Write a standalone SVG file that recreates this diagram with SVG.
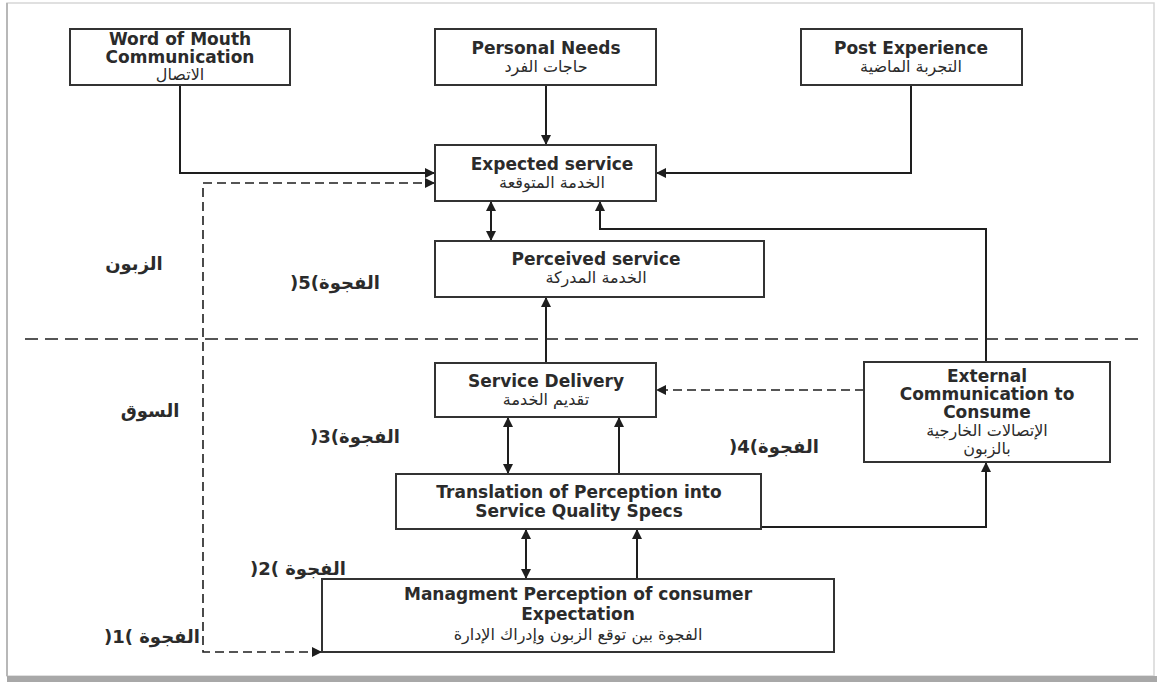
<svg xmlns="http://www.w3.org/2000/svg" width="1157" height="684" viewBox="0 0 1157 684">
<style>
.box{fill:#fff;stroke:#333;stroke-width:2}
.en{font-family:"DejaVu Sans","Liberation Sans",sans-serif;font-weight:bold;font-size:17px;fill:#2b2b2b;text-anchor:middle}
.ar{font-family:"DejaVu Sans","Noto Sans",sans-serif;font-size:16px;fill:#2b2b2b;text-anchor:middle}
.lbl{font-family:"DejaVu Sans","Noto Sans",sans-serif;font-weight:bold;font-size:18px;fill:#2b2b2b;text-anchor:middle}
.ln{fill:none;stroke:#1e1e1e;stroke-width:2}
.dash{fill:none;stroke:#1e1e1e;stroke-width:1.6;stroke-dasharray:9 5}
.sep{fill:none;stroke:#1e1e1e;stroke-width:1.6;stroke-dasharray:13 7}
</style>
<defs>
<marker id="ah" viewBox="0 0 10 10" refX="10" refY="5" markerWidth="11" markerHeight="10" markerUnits="userSpaceOnUse" orient="auto-start-reverse">
<path d="M0,0 L10,5 L0,10 z" fill="#1e1e1e"/>
</marker>
</defs>
<g id="frame">
<rect x="7" y="3" width="1147" height="673" fill="#fff" stroke="#d6d6d6" stroke-width="1.5"/>
<line x1="7" y1="679" x2="1157" y2="679" stroke="#a8a8a8" stroke-width="6"/>
<line x1="7" y1="3" x2="7" y2="676" stroke="#b8b8b8" stroke-width="2"/>
</g>
<g id="connectors">
<path class="sep" d="M25,339 H1145"/>
<path class="ln" d="M180,85 V173 H435" marker-end="url(#ah)"/>
<path class="ln" d="M546,85 V145" marker-end="url(#ah)"/>
<path class="ln" d="M911,85 V173 H656" marker-end="url(#ah)"/>
<path class="ln" d="M491,201 V241" marker-start="url(#ah)" marker-end="url(#ah)"/>
<path class="ln" d="M986,362 V229 H600 V201" marker-end="url(#ah)"/>
<path class="ln" d="M546,363 V297" marker-end="url(#ah)"/>
<path class="dash" d="M864,390 H656" marker-end="url(#ah)"/>
<path class="ln" d="M508,417 V474" marker-start="url(#ah)" marker-end="url(#ah)"/>
<path class="ln" d="M619,474 V417" marker-end="url(#ah)"/>
<path class="ln" d="M761,527 H986 V462" marker-end="url(#ah)"/>
<path class="ln" d="M526,529 V579" marker-start="url(#ah)" marker-end="url(#ah)"/>
<path class="ln" d="M637,579 V529" marker-end="url(#ah)"/>
<path class="dash" d="M322,652 H203 V183 H435" marker-start="url(#ah)" marker-end="url(#ah)"/>
</g>
<g id="word-of-mouth">
<rect class="box" x="70" y="29" width="220" height="56"/>
<text class="en" x="180" y="45">Word of Mouth</text>
<text class="en" x="180" y="63">Communication</text>
<text class="ar" x="180" y="80">الاتصال</text>
</g>
<g id="personal-needs">
<rect class="box" x="435" y="29" width="221" height="56"/>
<text class="en" x="546" y="54">Personal Needs</text>
<text class="ar" x="546" y="72">حاجات الفرد</text>
</g>
<g id="post-experience">
<rect class="box" x="801" y="29" width="221" height="56"/>
<text class="en" x="911" y="54">Post Experience</text>
<text class="ar" x="911" y="72">التجربة الماضية</text>
</g>
<g id="expected-service">
<rect class="box" x="435" y="145" width="221" height="56"/>
<text class="en" x="552" y="170">Expected service</text>
<text class="ar" x="552" y="188">الخدمة المتوقعة</text>
</g>
<g id="perceived-service">
<rect class="box" x="435" y="241" width="329" height="56"/>
<text class="en" x="596" y="265">Perceived service</text>
<text class="ar" x="596" y="283">الخدمة المدركة</text>
</g>
<g id="service-delivery">
<rect class="box" x="435" y="363" width="221" height="54"/>
<text class="en" x="546" y="387">Service Delivery</text>
<text class="ar" x="546" y="405">تقديم الخدمة</text>
</g>
<g id="external-communication">
<rect class="box" x="864" y="362" width="246" height="100"/>
<text class="en" x="987" y="382">External</text>
<text class="en" x="987" y="400">Communication to</text>
<text class="en" x="987" y="418">Consume</text>
<text class="ar" x="987" y="436">الإتصالات الخارجية</text>
<text class="ar" x="987" y="454">بالزبون</text>
</g>
<g id="translation">
<rect class="box" x="396" y="474" width="365" height="55"/>
<text class="en" x="579" y="498">Translation of Perception into</text>
<text class="en" x="579" y="517">Service Quality Specs</text>
</g>
<g id="management">
<rect class="box" x="322" y="579" width="512" height="73"/>
<text class="en" x="578" y="600">Managment Perception of consumer</text>
<text class="en" x="578" y="620">Expectation</text>
<text class="ar" x="578" y="640">الفجوة بين توقع الزبون وإدراك الإدارة</text>
</g>
<g id="labels">
<text class="lbl" x="134" y="270" font-size="19">الزبون</text>
<text class="lbl" x="150" y="417" font-size="19">السوق</text>
<text class="lbl" x="335" y="289" direction="ltr">)5(الفجوة</text>
<text class="lbl" x="355" y="443" direction="ltr">)3(الفجوة</text>
<text class="lbl" x="774" y="453" direction="ltr">)4(الفجوة</text>
<text class="lbl" x="298" y="575" direction="ltr">)2( الفجوة</text>
<text class="lbl" x="152" y="643" direction="ltr">)1( الفجوة</text>
</g>
</svg>
